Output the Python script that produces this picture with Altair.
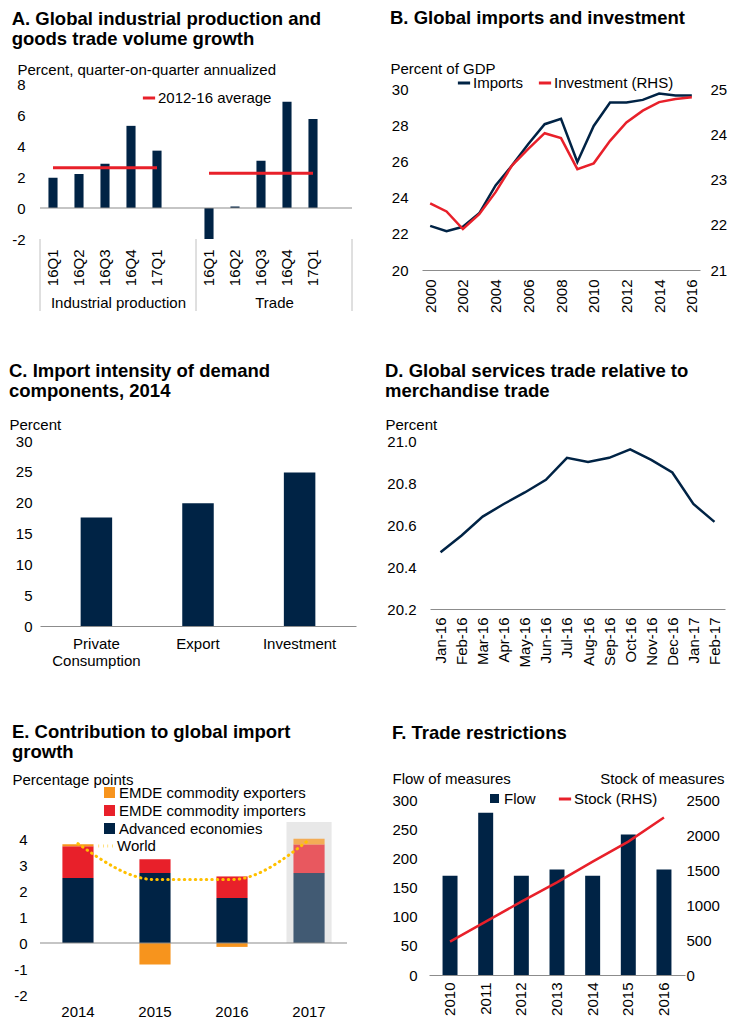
import altair as alt
import pandas as pd

FONT = "Liberation Sans"
NAVY = "#002345"
RED = "#E8202A"
ORANGE = "#F7941D"
GOLD = "#FFC000"
GREY = "#8c8c8c"
SEP = "#c0c0c0"
TXT = "#000000"
LBL = 15
TTL = 18.5

# ---------------- data ----------------
# A
quarters = ["16Q1", "16Q2", "16Q3", "16Q4", "17Q1"]
ip_growth = [1.95, 2.2, 2.85, 5.3, 3.7]
trade_growth = [-2.0, 0.1, 3.05, 6.85, 5.75]
ip_avg = 2.6
trade_avg = 2.25
avg_label = "2012-16 average"
a_groups = ["Industrial production", "Trade"]
a_ticks = [-2, 0, 2, 4, 6, 8]

# B
years_b = list(range(2000, 2017))
imports_gdp = [22.45, 22.15, 22.4, 23.15, 24.7, 25.8, 27.0, 28.1, 28.4, 26.0,
               28.0, 29.3, 29.3, 29.45, 29.8, 29.7, 29.7]
invest_gdp = [22.48, 22.3, 21.91, 22.24, 22.73, 23.32, 23.69, 24.04, 23.93, 23.24,
              23.37, 23.87, 24.28, 24.54, 24.73, 24.8, 24.84]
b_series = ["Imports", "Investment (RHS)"]
b_left_ticks = [20, 22, 24, 26, 28, 30]
b_right_ticks = [21, 22, 23, 24, 25]
b_year_ticks = list(range(2000, 2017, 2))

# C
components = ["Private Consumption", "Export", "Investment"]
import_intensity = [17.6, 19.9, 24.9]
c_ticks = [0, 5, 10, 15, 20, 25, 30]

# D
months = ["Jan-16", "Feb-16", "Mar-16", "Apr-16", "May-16", "Jun-16", "Jul-16",
          "Aug-16", "Sep-16", "Oct-16", "Nov-16", "Dec-16", "Jan-17", "Feb-17"]
services_ratio = [20.47, 20.55, 20.64, 20.70, 20.755, 20.815, 20.92,
                  20.90, 20.92, 20.96, 20.91, 20.85, 20.70, 20.615]
d_ticks = [20.2, 20.4, 20.6, 20.8, 21.0]

# E
years_e = ["2014", "2015", "2016", "2017"]
e_components = ["EMDE commodity exporters", "EMDE commodity importers", "Advanced economies"]
advanced = [2.5, 2.69, 1.73, 2.69]
emde_importers = [1.22, 0.53, 0.83, 1.1]
emde_exporters = [0.08, -0.83, -0.15, 0.22]
world = [3.82, 2.44, 2.44, 3.97]
forecast_year = "2017"
forecast_box_top = 4.65
e_ticks = [-2, -1, 0, 1, 2, 3, 4]

# F
years_f = ["2010", "2011", "2012", "2013", "2014", "2015", "2016"]
flow = [170, 278, 170, 181, 170, 241, 181]
stock = [476, 762, 1048, 1324, 1619, 1905, 2250]
f_left_ticks = [0, 50, 100, 150, 200, 250, 300]
f_right_ticks = [0, 500, 1000, 1500, 2000, 2500]


def unit_title(text, **kw):
    return alt.TitleParams(text=text, **kw)


def left_unit_axis(values, title, tx, ty, pad, **kw):
    return alt.Axis(values=values, title=title, titleAngle=0, titleAlign="left",
                    titleBaseline="alphabetic", titleX=tx, titleY=ty, domain=False,
                    labelPadding=pad, labelOverlap=False, **kw)


# ---------------- Panel A ----------------
A_H = 155
A_W = 156


def a_part(group, values, avg, first):
    slots = quarters + ["gap"]
    bars_df = pd.DataFrame({"slot": quarters, "value": values})
    avg_df = pd.DataFrame({"slot": [quarters[0]], "slot_end": [quarters[-1]],
                           "value": [avg], "series": [avg_label]})
    xs = alt.Scale(domain=slots, paddingInner=0.65, paddingOuter=0.325)
    xax = alt.Axis(title=group, labelAngle=-90,
                   labelExpr="datum.value == 'gap' ? '' : datum.value",
                   domain=False, labelPadding=10, titlePadding=10, labelOverlap=False)
    ys = alt.Scale(domain=[-2, 8], nice=False, zero=False)
    if first:
        yax = left_unit_axis(a_ticks, "Percent, quarter-on-quarter annualized", -23, -10, 15)
    else:
        yax = None
    y_enc = alt.Y("value:Q", scale=ys, axis=yax)
    x_enc = alt.X("slot:N", scale=xs, axis=xax, sort=slots)
    bars = alt.Chart(bars_df).mark_bar(color=NAVY).encode(x=x_enc, y=y_enc)
    zero = alt.Chart(pd.DataFrame({"value": [0]})).mark_rule(
        color=GREY, strokeWidth=1.2).encode(y=y_enc)
    leg = alt.Legend(title=None, orient="none", legendX=101, legendY=6,
                     symbolType="stroke", symbolStrokeWidth=3, symbolSize=150,
                     labelOffset=1) if first else None
    avg_rule = alt.Chart(avg_df).mark_rule(strokeWidth=3).encode(
        x=x_enc, x2="slot_end:N", y=y_enc,
        color=alt.Color("series:N", scale=alt.Scale(domain=[avg_label], range=[RED]),
                        legend=leg),
    )
    layers = [bars, zero, avg_rule]
    sep_df = pd.DataFrame({"k": [0]})
    layers.append(alt.Chart(sep_df).mark_rule(color=SEP).encode(
        x=alt.value(0), y=alt.value(A_H), y2=alt.value(A_H + 72)))
    if not first:
        layers.append(alt.Chart(sep_df).mark_rule(color=SEP).encode(
            x=alt.value(A_W), y=alt.value(A_H), y2=alt.value(A_H + 72)))
    return alt.layer(*layers).properties(width=A_W, height=A_H)


panel_a = alt.hconcat(
    a_part(a_groups[0], ip_growth, ip_avg, True),
    a_part(a_groups[1], trade_growth, trade_avg, False),
    spacing=0, bounds="flush",
    title=unit_title(["A. Global industrial production and", "goods trade volume growth"],
                     offset=14),
).resolve_scale(color="independent", x="independent", y="independent")

# ---------------- Panel B ----------------
B_W, B_H = 278, 186
imp_df = pd.DataFrame({"year": years_b, "val": imports_gdp, "series": b_series[0]})
inv_df = pd.DataFrame({"year": years_b, "val": invest_gdp, "series": b_series[1]})
xb = alt.X("year:Q", scale=alt.Scale(domain=[1999.5, 2016.5], nice=False, zero=False),
           axis=alt.Axis(values=b_year_ticks, format="d", labelAngle=-90, labelPadding=9,
                         title=None, domainColor=GREY))
b_color = alt.Scale(domain=b_series, range=[NAVY, RED])
b_imp = alt.Chart(imp_df).mark_line(strokeWidth=2.5).encode(
    x=xb,
    y=alt.Y("val:Q", scale=alt.Scale(domain=[20, 30.333], nice=False, zero=False),
            axis=left_unit_axis(b_left_ticks, "Percent of GDP", -32, -11, 14)),
    color=alt.Color("series:N", scale=b_color,
                    legend=alt.Legend(title=None, orient="none", direction="horizontal",
                                      legendX=34, legendY=-9, symbolType="stroke",
                                      symbolStrokeWidth=3, symbolSize=150, labelOffset=1,
                                      columnPadding=8)),
)
b_inv = alt.Chart(inv_df).mark_line(strokeWidth=2.5).encode(
    x=xb,
    y=alt.Y("val:Q", scale=alt.Scale(domain=[21, 25.133], nice=False, zero=False),
            axis=alt.Axis(orient="right", values=b_right_ticks, title=None, domain=False,
                          labelPadding=10, labelOverlap=False)),
    color=alt.Color("series:N", scale=b_color),
)
panel_b = alt.layer(b_imp, b_inv).resolve_scale(y="independent").properties(
    width=B_W, height=B_H,
    title=unit_title("B. Global imports and investment", offset=34))

# ---------------- Panel C ----------------
c_df = pd.DataFrame({"component": components, "value": import_intensity})
panel_c = alt.Chart(c_df).mark_bar(color=NAVY).encode(
    x=alt.X("component:N", sort=components,
            scale=alt.Scale(paddingInner=0.69, paddingOuter=0.4),
            axis=alt.Axis(labelAngle=0, labelExpr="split(datum.label, ' ')",
                          labelPadding=10, labelLineHeight=17, title=None,
                          domainColor=GREY)),
    y=alt.Y("value:Q", scale=alt.Scale(domain=[0, 30], nice=False),
            axis=left_unit_axis(c_ticks, "Percent", -31, -12, 8)),
).properties(width=316, height=185,
             title=unit_title(["C. Import intensity of demand", "components, 2014"], offset=17))

# ---------------- Panel D ----------------
d_df = pd.DataFrame({"month": months, "val": services_ratio})
panel_d = alt.Chart(d_df).mark_line(color=NAVY, strokeWidth=2.5).encode(
    x=alt.X("month:O", sort=months, scale=alt.Scale(type="point", padding=0.5),
            axis=alt.Axis(labelAngle=-90, labelPadding=8, title=None, domainColor=GREY)),
    y=alt.Y("val:Q", scale=alt.Scale(domain=[20.2, 21.0], nice=False, zero=False),
            axis=left_unit_axis(d_ticks, "Percent", -45, -12, 14, format=".1f")),
).properties(width=295, height=168,
             title=unit_title(["D. Global services trade relative to", "merchandise trade"],
                              offset=17))

# ---------------- Panel E ----------------
E_W, E_H = 307, 195
rows = []
for i, yr in enumerate(years_e):
    rows.append({"year": yr, "component": e_components[2], "value": advanced[i], "ord": 0})
    rows.append({"year": yr, "component": e_components[1], "value": emde_importers[i], "ord": 1})
    rows.append({"year": yr, "component": e_components[0], "value": emde_exporters[i], "ord": 2})
e_df = pd.DataFrame(rows)
w_df = pd.DataFrame({"year": years_e, "value": world, "series": "World"})
box_df = pd.DataFrame({"year": [forecast_year], "value": [forecast_box_top]})

xe = alt.X("year:N", scale=alt.Scale(domain=years_e, paddingInner=0.414, paddingOuter=0.2),
           axis=alt.Axis(labelAngle=0, labelPadding=9, title=None, domain=False))
ye_scale = alt.Scale(domain=[-2, 5.5], nice=False, zero=False)
ye_axis = left_unit_axis(e_ticks, "Percentage points", -28, -16, 13)
e_box = alt.Chart(box_df).mark_bar(color="#e8e8e8").encode(
    x=xe, y=alt.Y("value:Q", scale=ye_scale, axis=ye_axis))
e_bars = alt.Chart(e_df).mark_bar(width=alt.RelativeBandSize(0.69)).encode(
    x=xe,
    y=alt.Y("value:Q", stack="zero", scale=ye_scale, axis=ye_axis),
    color=alt.Color("component:N",
                    scale=alt.Scale(domain=e_components, range=[ORANGE, RED, NAVY]),
                    legend=alt.Legend(title=None, orient="none", legendX=62, legendY=-15,
                                      symbolType="square", symbolSize=121, labelOffset=2,
                                      rowPadding=2, symbolStrokeWidth=0, labelLimit=0)),
    order=alt.Order("ord:Q"),
    opacity=alt.condition(alt.datum.year == forecast_year, alt.value(0.72), alt.value(1.0)),
)
e_zero = alt.Chart(pd.DataFrame({"value": [0]})).mark_rule(color=GREY, strokeWidth=1.2).encode(
    y=alt.Y("value:Q", scale=ye_scale, axis=ye_axis))
e_world = alt.Chart(w_df).mark_line(strokeDash=[0.5, 5], strokeCap="round", strokeWidth=3,
                                    interpolate="monotone").encode(
    x=xe,
    y=alt.Y("value:Q", scale=ye_scale, axis=ye_axis),
    stroke=alt.Stroke("series:N", scale=alt.Scale(domain=["World"], range=[GOLD]),
                      legend=alt.Legend(title=None, orient="none", legendX=57, legendY=37,
                                        symbolType="stroke", symbolDash=[0.5, 4],
                                        symbolStrokeWidth=3, symbolSize=220, labelOffset=2)),
)
panel_e = alt.layer(e_box, e_bars, e_zero, e_world).properties(
    width=E_W, height=E_H,
    title=unit_title(["E. Contribution to global import", "growth"], offset=11))

# ---------------- Panel F ----------------
F_W, F_H = 256, 175
f_df = pd.DataFrame({"year": years_f, "flow": flow, "stock": stock})
xf = alt.X("year:N", sort=years_f, scale=alt.Scale(paddingInner=0.58, paddingOuter=0.38),
           axis=alt.Axis(labelAngle=-90, labelPadding=7, title=None, domainColor=GREY))
f_bars = alt.Chart(f_df).transform_calculate(s="'Flow'").mark_bar().encode(
    x=xf,
    y=alt.Y("flow:Q", scale=alt.Scale(domain=[0, 300], nice=False),
            axis=left_unit_axis(f_left_ticks, "Flow of measures", -37, -17, 12)),
    fill=alt.Fill("s:N", scale=alt.Scale(domain=["Flow"], range=[NAVY]),
                  legend=alt.Legend(title=None, orient="none", legendX=58, legendY=-9,
                                    symbolType="square", symbolSize=81, labelOffset=2,
                                    symbolStrokeWidth=0)),
)
f_line = alt.Chart(f_df).transform_calculate(s2="'Stock (RHS)'").mark_line(strokeWidth=2.5).encode(
    x=xf,
    y=alt.Y("stock:Q", scale=alt.Scale(domain=[0, 2500], nice=False),
            axis=alt.Axis(orient="right", values=f_right_ticks, format="d",
                          title="Stock of measures", titleAngle=0, titleAlign="right",
                          titleBaseline="alphabetic", titleX=39, titleY=-17, domain=False,
                          labelPadding=1, labelOverlap=False)),
    stroke=alt.Stroke("s2:N", scale=alt.Scale(domain=["Stock (RHS)"], range=[RED]),
                      legend=alt.Legend(title=None, orient="none", legendX=128, legendY=-9,
                                        symbolType="stroke", symbolStrokeWidth=3,
                                        symbolSize=150, labelOffset=1)),
)
panel_f = alt.layer(f_bars, f_line).resolve_scale(y="independent").properties(
    width=F_W, height=F_H,
    title=unit_title("F. Trade restrictions", offset=29))


def indep(c):
    return c.resolve_scale(color="independent", fill="independent", stroke="independent",
                           opacity="independent", x="independent", y="independent")


row1 = indep(alt.hconcat(panel_a, panel_b, spacing=37))
row2 = indep(alt.hconcat(panel_c, panel_d, spacing=29))
row3 = indep(alt.hconcat(panel_e, panel_f, spacing=43))

chart = indep(alt.vconcat(indep(alt.vconcat(row1, row2, spacing=48)), row3, spacing=54)).properties(
    padding={"left": 1, "top": 0, "right": 2, "bottom": 0}
).configure(
    font=FONT,
    locale={"number": {"decimal": ".", "thousands": ",", "grouping": [3],
                       "currency": ["$", ""], "minus": "-"}},
).configure_view(stroke=None).configure_axis(
    labelFont=FONT, labelFontSize=LBL, labelColor=TXT, titleFont=FONT, titleFontSize=LBL,
    titleFontWeight="normal", titleColor=TXT, grid=False, ticks=False,
    labelOverlap=False, labelFlush=False,
).configure_legend(
    labelFont=FONT, labelFontSize=LBL, labelColor=TXT, padding=0,
).configure_title(
    font=FONT, fontSize=TTL, fontWeight="bold", anchor="start", lineHeight=20, color=TXT,
)

chart.save("out.html", embed_options={"renderer": "svg", "actions": False})
